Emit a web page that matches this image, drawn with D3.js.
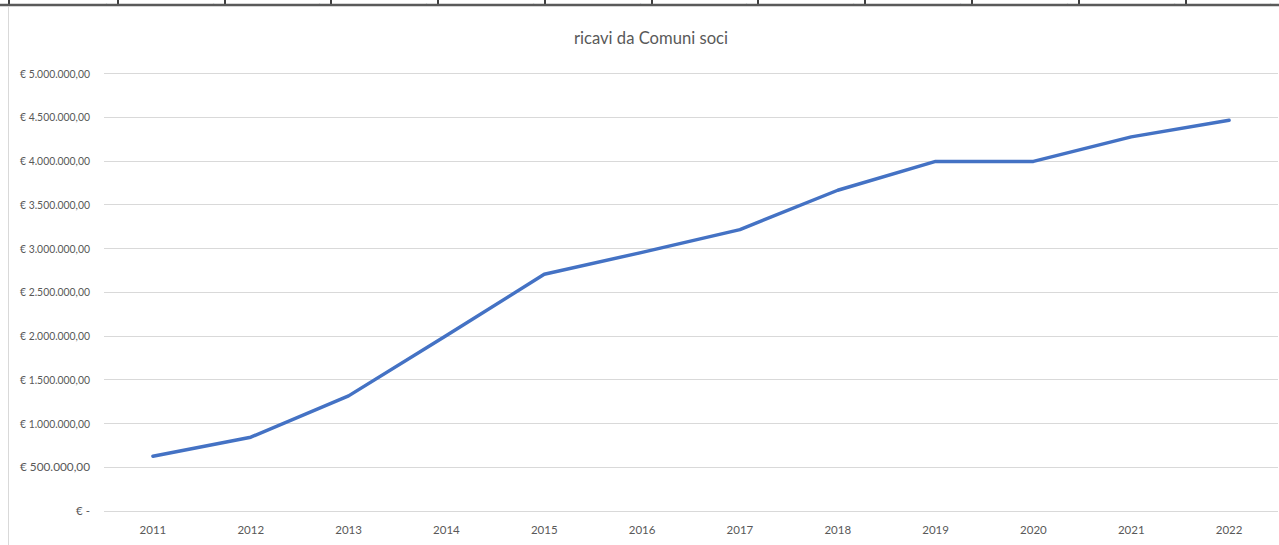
<!DOCTYPE html>
<html>
<head>
<meta charset="utf-8">
<script src="https://cdn.jsdelivr.net/npm/d3@7"></script>
<style>
  html, body { margin: 0; padding: 0; background: #fff; }
  svg { display: block; }
  .lbl { font-family: Lato, "Open Sans", sans-serif; fill: #595959; }
</style>
</head>
<body>
<svg id="chart" width="1279" height="545"></svg>
<script>
// Ricavi annui da Comuni soci (euro)
const years = ["2011","2012","2013","2014","2015","2016","2017","2018","2019","2020","2021","2022"];
const ricavi = [620000, 838000, 1310000, 2000000, 2700000, 2950000, 3210000, 3660000, 3990000, 3990000, 4270000, 4460000];
const yTicks = [0, 500000, 1000000, 1500000, 2000000, 2500000, 3000000, 3500000, 4000000, 4500000, 5000000];
const title = "ricavi da Comuni soci";

// Spreadsheet row boundaries visible above the chart
const sheetCols = [9, 118, 225, 331, 438, 545, 652, 758, 865, 972, 1079, 1186, 1293];

const svg = d3.select("#chart");
const W = 1279, H = 545;

// cell row above the chart object
const sheet = svg.append("g");
sheet.selectAll("line.v").data(sheetCols).join("line")
  .attr("x1", d => d).attr("x2", d => d).attr("y1", 0).attr("y2", 5)
  .attr("stroke", "#000").attr("stroke-width", 1.5);
sheet.selectAll("text").data(sheetCols.slice(1)).join("text")
  .attr("x", d => Math.min(d - 12, 1270)).attr("y", 3.5).attr("font-size", 4).attr("fill", "#555")
  .attr("font-family", "Liberation Sans, sans-serif").text(",");
sheet.append("line").attr("x1", 0).attr("x2", W).attr("y1", 5).attr("y2", 5)
  .attr("stroke", "#5a5a5a").attr("stroke-width", 2.5);

// chart object frame (left edge)
svg.append("line").attr("x1", 8.5).attr("x2", 8.5).attr("y1", 7).attr("y2", H)
  .attr("stroke", "#d9d9d9").attr("stroke-width", 1);

// title
svg.append("text").attr("class", "lbl")
  .attr("x", 651).attr("y", 44).attr("text-anchor", "middle")
  .attr("font-size", 18)
  .attr("textLength", 154).attr("lengthAdjust", "spacingAndGlyphs")
  .text(title);

const x = d3.scaleBand().domain(years).range([104, 1278]);
const y = d3.scaleLinear().domain([0, 5000000]).range([510.5, 73]);

const fmt = v => v === 0 ? "€ -" : "€ " + d3.format(",.2f")(v).replace(/,/g, "#").replace(".", ",").replace(/#/g, ".");

// gridlines
svg.append("g").selectAll("line").data(yTicks).join("line")
  .attr("x1", 104).attr("x2", 1278)
  .attr("y1", d => Math.round(y(d)) + 0.5).attr("y2", d => Math.round(y(d)) + 0.5)
  .attr("stroke", "#d9d9d9").attr("stroke-width", 1);

// y axis labels
const yAxis = d3.axisLeft(y).tickValues(yTicks).tickSize(0).tickPadding(0).tickFormat(fmt);
const gy = svg.append("g").attr("transform", "translate(90,0)").call(yAxis);
gy.select(".domain").remove();
gy.selectAll("text").attr("class", "lbl").attr("font-size", 11.5).attr("dy", "0.35em").attr("fill", "#595959")
  .each(function(d) { if (d !== 0) d3.select(this).attr("textLength", 70).attr("lengthAdjust", "spacingAndGlyphs"); });

// x axis labels
const xAxis = d3.axisBottom(x).tickSize(0).tickPadding(0);
const gx = svg.append("g").attr("transform", "translate(0,526)").call(xAxis);
gx.select(".domain").remove();
gx.selectAll("text").attr("class", "lbl").attr("font-size", 11.5).attr("dy", "0.71em").attr("fill", "#595959");

// series line
const line = d3.line()
  .x((d, i) => x(years[i]) + x.bandwidth() / 2)
  .y(d => y(d));
svg.append("path").datum(ricavi)
  .attr("d", line)
  .attr("fill", "none")
  .attr("stroke", "#4472c4")
  .attr("stroke-width", 3.5)
  .attr("stroke-linejoin", "round")
  .attr("stroke-linecap", "round");
</script>
</body>
</html>
